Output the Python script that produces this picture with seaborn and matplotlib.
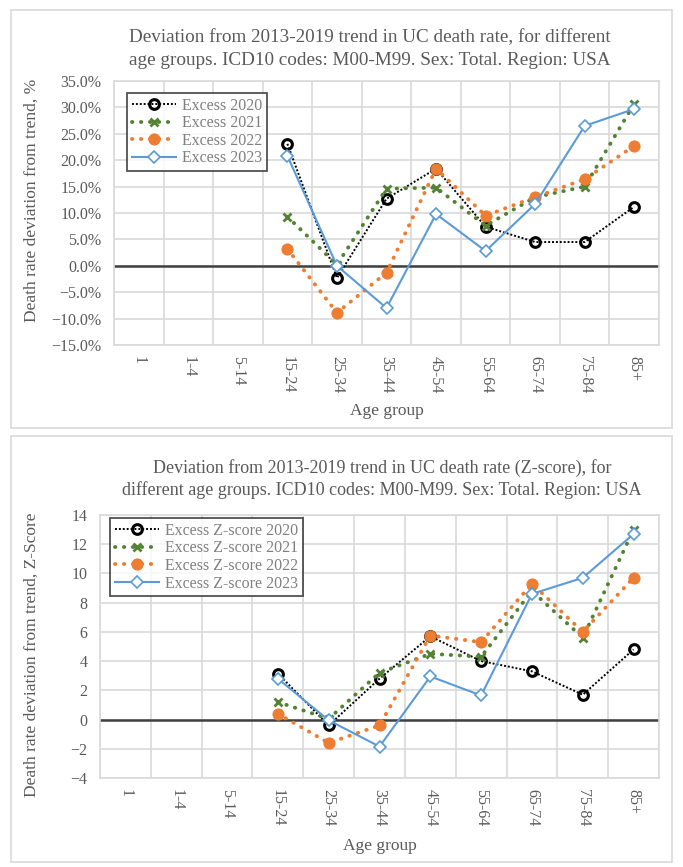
import numpy as np
import pandas as pd
import seaborn as sns
import matplotlib.pyplot as plt
from matplotlib.patches import Rectangle
from matplotlib.ticker import PercentFormatter

age_groups = ['1', '1-4', '5-14', '15-24', '25-34', '35-44', '45-54', '55-64', '65-74', '75-84', '85+']
years = ['2020', '2021', '2022', '2023']

# % deviation from trend, ages 15-24 .. 85+
pct_2020 = [23.1, -2.3, 12.7, 18.4, 7.4, 4.5, 4.5, 11.2]
pct_2021 = [9.3, 0.2, 14.6, 14.8, 7.6, 13.0, 15.0, 30.7]
pct_2022 = [3.2, -8.9, -1.3, 18.4, 9.5, 13.0, 16.4, 22.7]
pct_2023 = [20.8, 0.0, -8.0, 9.8, 2.8, 11.7, 26.5, 29.7]

# Z-score deviation from trend, ages 15-24 .. 85+
z_2020 = [3.15, -0.4, 2.8, 5.7, 4.0, 3.3, 1.7, 4.8]
z_2021 = [1.2, 0.05, 3.2, 4.5, 4.3, 8.8, 5.6, 13.0]
z_2022 = [0.4, -1.6, -0.4, 5.75, 5.3, 9.3, 6.0, 9.7]
z_2023 = [2.8, -0.05, -1.85, 2.95, 1.65, 8.6, 9.7, 12.7]

GRAY = '#595959'
GRID = '#d9d9d9'
plt.rcParams['font.family'] = ['Liberation Serif', 'DejaVu Serif']

styles = {
    '2020': dict(color='black', linestyle=(0, (1, 1)), linewidth=1.4, marker='o', markersize=7,
                 markerfacecolor='none', markeredgecolor='black', markeredgewidth=2.2),
    '2021': dict(color='#548235', linestyle=(0, (0.1, 2.2)), linewidth=2.8, dash_capstyle='round',
                 marker='x', markersize=6, markeredgewidth=2, markeredgecolor='#548235'),
    '2022': dict(color='#ed7d31', linestyle=(0, (0.1, 2.2)), linewidth=2.8, dash_capstyle='round',
                 marker='o', markersize=8, markeredgecolor='#ed7d31', markerfacecolor='#ed7d31'),
    '2023': dict(color='#5b9bd5', linestyle='-', linewidth=1.5, marker='D', markersize=6,
                 markerfacecolor='white', markeredgecolor='#5b9bd5', markeredgewidth=1.2),
}


def make_frame(series):
    rows = []
    for yr, vals in zip(years, series):
        for i, v in enumerate(vals):
            rows.append({'pos': 3 + i, 'value': v, 'year': yr})
    return pd.DataFrame(rows)


def draw_panel(ax, df, label_prefix, ylim, yticks, pct, leg_anchor):
    for yr in years:
        sub = df[df['year'] == yr]
        sns.lineplot(data=sub, x='pos', y='value', ax=ax, label=f'{label_prefix} {yr}', **styles[yr])
    ax.set_xlim(-0.5, len(age_groups) - 0.5)
    ax.set_ylim(*ylim)
    ax.set_yticks(yticks)
    ax.set_xticks(np.arange(len(age_groups)))
    ax.set_xticklabels(age_groups, rotation=-90, fontsize=11.5, color=GRAY)
    ax.set_xticks(np.arange(len(age_groups) + 1) - 0.5, minor=True)
    ax.grid(False)
    ax.grid(True, which='minor', axis='x', color=GRID, lw=1.2)
    ax.grid(True, which='major', axis='y', color=GRID, lw=1.2)
    ax.set_axisbelow(True)
    ax.tick_params(which='both', length=0, labelsize=11.5, labelcolor=GRAY)
    ax.tick_params(axis='x', pad=8)
    ax.tick_params(axis='y', pad=9)
    ax.axhline(0, color='#404040', lw=1.8, zorder=1.5)
    if pct:
        ax.yaxis.set_major_formatter(PercentFormatter(decimals=1))
    for s in ax.spines.values():
        s.set_color(GRID)
        s.set_linewidth(1.2)
    ax.set_xlabel('')
    ax.set_ylabel('')
    leg = ax.legend(loc='upper left', bbox_to_anchor=leg_anchor, fontsize=11.4, frameon=True,
                    fancybox=False, handlelength=2.8, borderpad=0.3, labelspacing=0.1,
                    handletextpad=0.4, borderaxespad=0.0)
    leg.get_frame().set_edgecolor('#262626')
    leg.get_frame().set_linewidth(1.3)
    for t in leg.get_texts():
        t.set_color('#7f7f7f')


W, H = 683, 867
fig = plt.figure(figsize=(W / 100, H / 100), dpi=100)


def fx(x):
    return x / W


def fy(y):
    return 1 - y / H


# chart frames
for y0, y1 in [(10, 428), (436, 862)]:
    fig.patches.append(Rectangle((fx(11), fy(y1)), fx(672) - fx(11), fy(y0) - fy(y1),
                                 transform=fig.transFigure, fill=False, edgecolor=GRID, lw=1.2))

ax1 = fig.add_axes([fx(114), fy(345), fx(659) - fx(114), fy(81) - fy(345)])
draw_panel(ax1, make_frame([pct_2020, pct_2021, pct_2022, pct_2023]), 'Excess',
           (-15, 35), np.arange(-15, 36, 5), True, (13 / 545, 1 - 12 / 264))

ax2 = fig.add_axes([fx(100), fy(778), fx(659) - fx(100), fy(515) - fy(778)])
draw_panel(ax2, make_frame([z_2020, z_2021, z_2022, z_2023]), 'Excess Z-score',
           (-4, 14), np.arange(-4, 15, 2), False, (10 / 559, 1 - 3 / 263))

fig.text(fx(370), fy(49), 'Deviation from 2013-2019 trend in UC death rate, for different\n'
         'age groups. ICD10 codes: M00-M99. Sex: Total. Region: USA',
         ha='center', va='center', fontsize=13.8, color=GRAY, linespacing=1.4)
fig.text(fx(382), fy(479), 'Deviation from 2013-2019 trend in UC death rate (Z-score), for\n'
         'different age groups. ICD10 codes: M00-M99. Sex: Total. Region: USA',
         ha='center', va='center', fontsize=13, color=GRAY, linespacing=1.3)

fig.text(fx(32), fy(200), 'Death rate deviation from trend, %', rotation=90,
         ha='center', va='center', fontsize=12.5, color=GRAY)
fig.text(fx(32), fy(655), 'Death rate deviation from trend, Z-Score', rotation=90,
         ha='center', va='center', fontsize=12.5, color=GRAY)
fig.text(fx(387), fy(411), 'Age group', ha='center', va='center', fontsize=12.5, color=GRAY)
fig.text(fx(380), fy(846), 'Age group', ha='center', va='center', fontsize=12.5, color=GRAY)

fig.savefig('out.png', dpi=100, facecolor='white')
